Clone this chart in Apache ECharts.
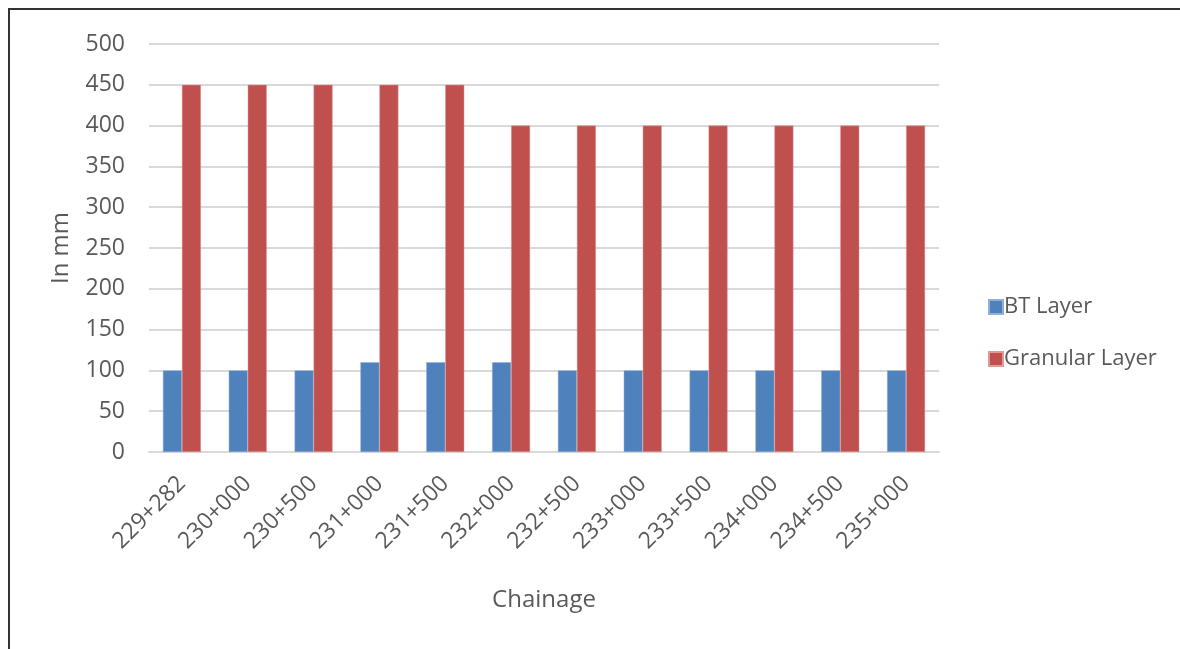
<!DOCTYPE html>
<html>
<head>
<meta charset="utf-8">
<script src="https://cdn.jsdelivr.net/npm/echarts@6/dist/echarts.min.js"></script>
<style>
html,body{margin:0;padding:0;background:#fff;}
#chart{width:1180px;height:649px;}
#frame{position:absolute;left:8px;top:8px;width:1200px;height:700px;border-left:2px solid #333;border-top:2px solid #333;pointer-events:none;}
</style>
</head>
<body>
<div id="chart"></div>
<div id="frame"></div>
<script>
const categories = ['229+282','230+000','230+500','231+000','231+500','232+000','232+500','233+000','233+500','234+000','234+500','235+000'];
const btLayer = [100,100,100,110,110,110,100,100,100,100,100,100];
const granularLayer = [450,450,450,450,450,400,400,400,400,400,400,400];
const seriesNames = ['BT Layer','Granular Layer'];
const yTicks = {min:0, max:500, interval:50};

const font = '"Open Sans", Lato, sans-serif';
const txt = '#595959';
const chart = echarts.init(document.getElementById('chart'));
chart.setOption({
  animation:false,
  textStyle:{fontFamily:font},
  grid:{left:149,right:241,top:44,bottom:197},
  legend:{
    orient:'vertical', left:983, top:291, itemGap:30,
    itemWidth:14, itemHeight:14, icon:'rect',
    textStyle:{fontSize:22,color:txt,fontFamily:font,padding:[0,0,0,-4]},
    data:seriesNames
  },
  xAxis:{
    type:'category', data:categories,
    name:'Chainage', nameLocation:'middle', nameGap:136,
    nameTextStyle:{fontSize:24,color:txt,fontFamily:font},
    axisLine:{lineStyle:{color:'#d9d9d9',width:2}},
    axisTick:{show:false},
    axisLabel:{rotate:45,fontSize:23,color:txt,fontFamily:font,margin:28,interval:0}
  },
  yAxis:{
    type:'value', min:yTicks.min, max:yTicks.max, interval:yTicks.interval,
    name:'In mm', nameLocation:'middle', nameGap:76, nameRotate:90,
    nameTextStyle:{fontSize:24,color:txt,fontFamily:font},
    axisLine:{show:false}, axisTick:{show:false},
    axisLabel:{fontSize:23,color:txt,fontFamily:font,margin:24},
    splitLine:{lineStyle:{color:'#d9d9d9',width:2}}
  },
  series:[
    {name:seriesNames[0],type:'bar',data:btLayer,barWidth:19,barGap:'0%',
     itemStyle:{color:'#4F81BD',borderColor:'#8fb0d8',borderWidth:0.5}},
    {name:seriesNames[1],type:'bar',data:granularLayer,barWidth:19,barGap:'0%',
     itemStyle:{color:'#C0504D',borderColor:'#e09a98',borderWidth:0.5}}
  ]
});
</script>
</body>
</html>
